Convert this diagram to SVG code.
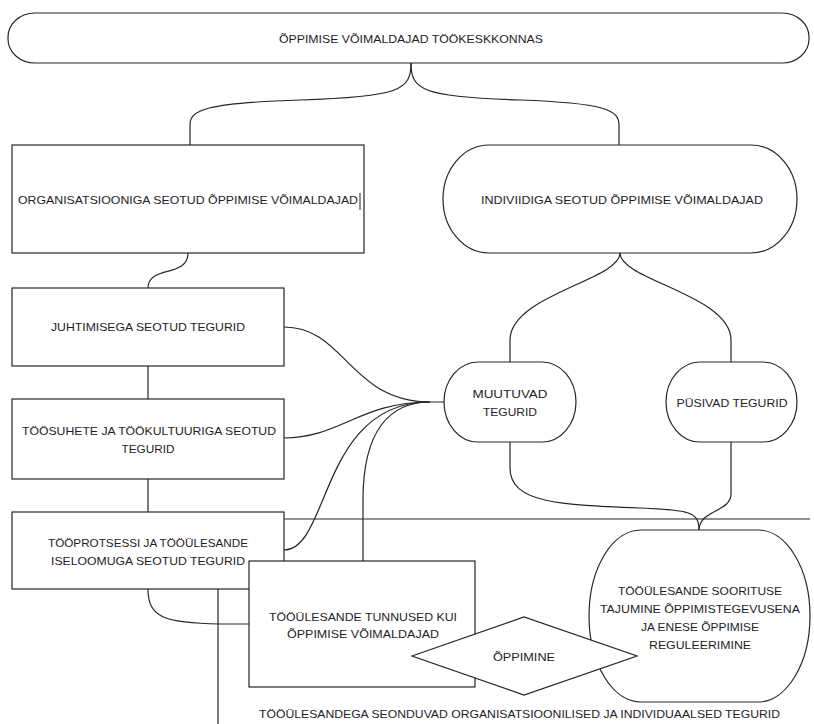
<svg xmlns="http://www.w3.org/2000/svg" width="814" height="724" viewBox="0 0 814 724">
<style>
.s{fill:#fff;stroke:#262626;stroke-width:1.2}
.c{fill:none;stroke:#262626;stroke-width:1.2}
.t{font-family:"Liberation Sans",Arial,sans-serif;font-size:11.5px;fill:#1e1e28;text-anchor:middle}
</style>
<rect width="814" height="724" fill="#fff"/>
<g id="connectors">
<path class="c" d="M411,63 C411,90 400,97 300,100 C205,103 190,110 190,125 L190,145"/>
<path class="c" d="M411,63 C411,90 422,97 520,100 C605,103 619,110 619,125 L619,145"/>
<path class="c" d="M188,253 C188,278 148,265 148,288"/>
<path class="c" d="M148,366 V399 M148,479 V512"/>
<path class="c" d="M620,253 C620,280 510,295 510,340 L510,362"/>
<path class="c" d="M620,253 C620,280 731,295 731,340 L731,362"/>
<path class="c" d="M510,442 L510,468 C510,503 560,505 640,508 C690,510 699,512 699,530"/>
<path class="c" d="M731,442 L731,494 C731,512 699,510 699,530"/>
<path class="c" d="M284,327 C345,327 350,402 430,402"/>
<path class="c" d="M284,438 C340,438 360,402 430,402"/>
<path class="c" d="M284,550 C330,550 320,402 430,402"/>
<path class="c" d="M363,561 L363,500 C363,430 390,402 430,402 H444"/>
<path class="c" d="M284,519 H810"/>
<path class="c" d="M218,589 V724"/>
<path class="c" d="M148,589 C148,618 165,623 220,624 L249,624"/>
</g>
<g id="n-top">
<rect class="s" x="8" y="13" width="801" height="50" rx="27" ry="24"/>
<text class="t" x="411" y="43" textLength="264" lengthAdjust="spacingAndGlyphs">ÕPPIMISE VÕIMALDAJAD TÖÖKESKKONNAS</text>
</g>
<g id="n-org">
<rect class="s" x="12" y="145" width="352" height="108"/>
<text class="t" x="188" y="204" textLength="340" lengthAdjust="spacingAndGlyphs">ORGANISATSIOONIGA SEOTUD ÕPPIMISE VÕIMALDAJAD</text>
<line x1="360" y1="193" x2="360" y2="210" stroke="#1e1e28" stroke-width="1"/>
</g>
<g id="n-ind">
<rect class="s" x="443" y="145" width="354" height="108" rx="46" ry="54"/>
<text class="t" x="622" y="204" textLength="282" lengthAdjust="spacingAndGlyphs">INDIVIIDIGA SEOTUD ÕPPIMISE VÕIMALDAJAD</text>
</g>
<g id="n-juht">
<rect class="s" x="12" y="288" width="272" height="78"/>
<text class="t" x="148" y="331" textLength="194" lengthAdjust="spacingAndGlyphs">JUHTIMISEGA SEOTUD TEGURID</text>
</g>
<g id="n-toosuhete">
<rect class="s" x="12" y="399" width="272" height="80"/>
<text class="t" x="149" y="435" textLength="254" lengthAdjust="spacingAndGlyphs">TÖÖSUHETE JA TÖÖKULTUURIGA SEOTUD</text>
<text class="t" x="148" y="453" textLength="53" lengthAdjust="spacingAndGlyphs">TEGURID</text>
</g>
<g id="n-muutuvad">
<rect class="s" x="444" y="362" width="132" height="80" rx="34" ry="40"/>
<text class="t" x="510" y="398" textLength="75" lengthAdjust="spacingAndGlyphs">MUUTUVAD</text>
<text class="t" x="510" y="416" textLength="54" lengthAdjust="spacingAndGlyphs">TEGURID</text>
</g>
<g id="n-pusivad">
<rect class="s" x="666" y="362" width="131" height="80" rx="34" ry="40"/>
<text class="t" x="732" y="407" textLength="111" lengthAdjust="spacingAndGlyphs">PÜSIVAD TEGURID</text>
</g>
<g id="n-tooprotsessi">
<rect class="s" x="12" y="512" width="272" height="77"/>
<text class="t" x="148" y="547" textLength="200" lengthAdjust="spacingAndGlyphs">TÖÖPROTSESSI JA TÖÖÜLESANDE</text>
<text class="t" x="148" y="565" textLength="194" lengthAdjust="spacingAndGlyphs">ISELOOMUGA SEOTUD TEGURID</text>
</g>
<g id="n-tunnused">
<rect class="s" x="249" y="561" width="226" height="126"/>
<text class="t" x="363" y="621" textLength="188" lengthAdjust="spacingAndGlyphs">TÖÖÜLESANDE TUNNUSED KUI</text>
<text class="t" x="363" y="638" textLength="152" lengthAdjust="spacingAndGlyphs">ÕPPIMISE VÕIMALDAJAD</text>
</g>
<g id="n-sooritus">
<rect class="s" x="589" y="530" width="221" height="172" rx="52" ry="86"/>
<text class="t" x="700" y="595" textLength="164" lengthAdjust="spacingAndGlyphs">TÖÖÜLESANDE SOORITUSE</text>
<text class="t" x="700" y="613" textLength="200" lengthAdjust="spacingAndGlyphs">TAJUMINE ÕPPIMISTEGEVUSENA</text>
<text class="t" x="700" y="631" textLength="118" lengthAdjust="spacingAndGlyphs">JA ENESE ÕPPIMISE</text>
<text class="t" x="700" y="649" textLength="102" lengthAdjust="spacingAndGlyphs">REGULEERIMINE</text>
</g>
<g id="n-oppimine">
<polygon class="s" points="412,656 524,617 637,656 524,695"/>
<text class="t" x="524" y="661" textLength="62" lengthAdjust="spacingAndGlyphs">ÕPPIMINE</text>
</g>
<g id="n-label">
<text class="t" x="519.5" y="718" textLength="521" lengthAdjust="spacingAndGlyphs">TÖÖÜLESANDEGA SEONDUVAD ORGANISATSIOONILISED JA INDIVIDUAALSED TEGURID</text>
</g>
</svg>
